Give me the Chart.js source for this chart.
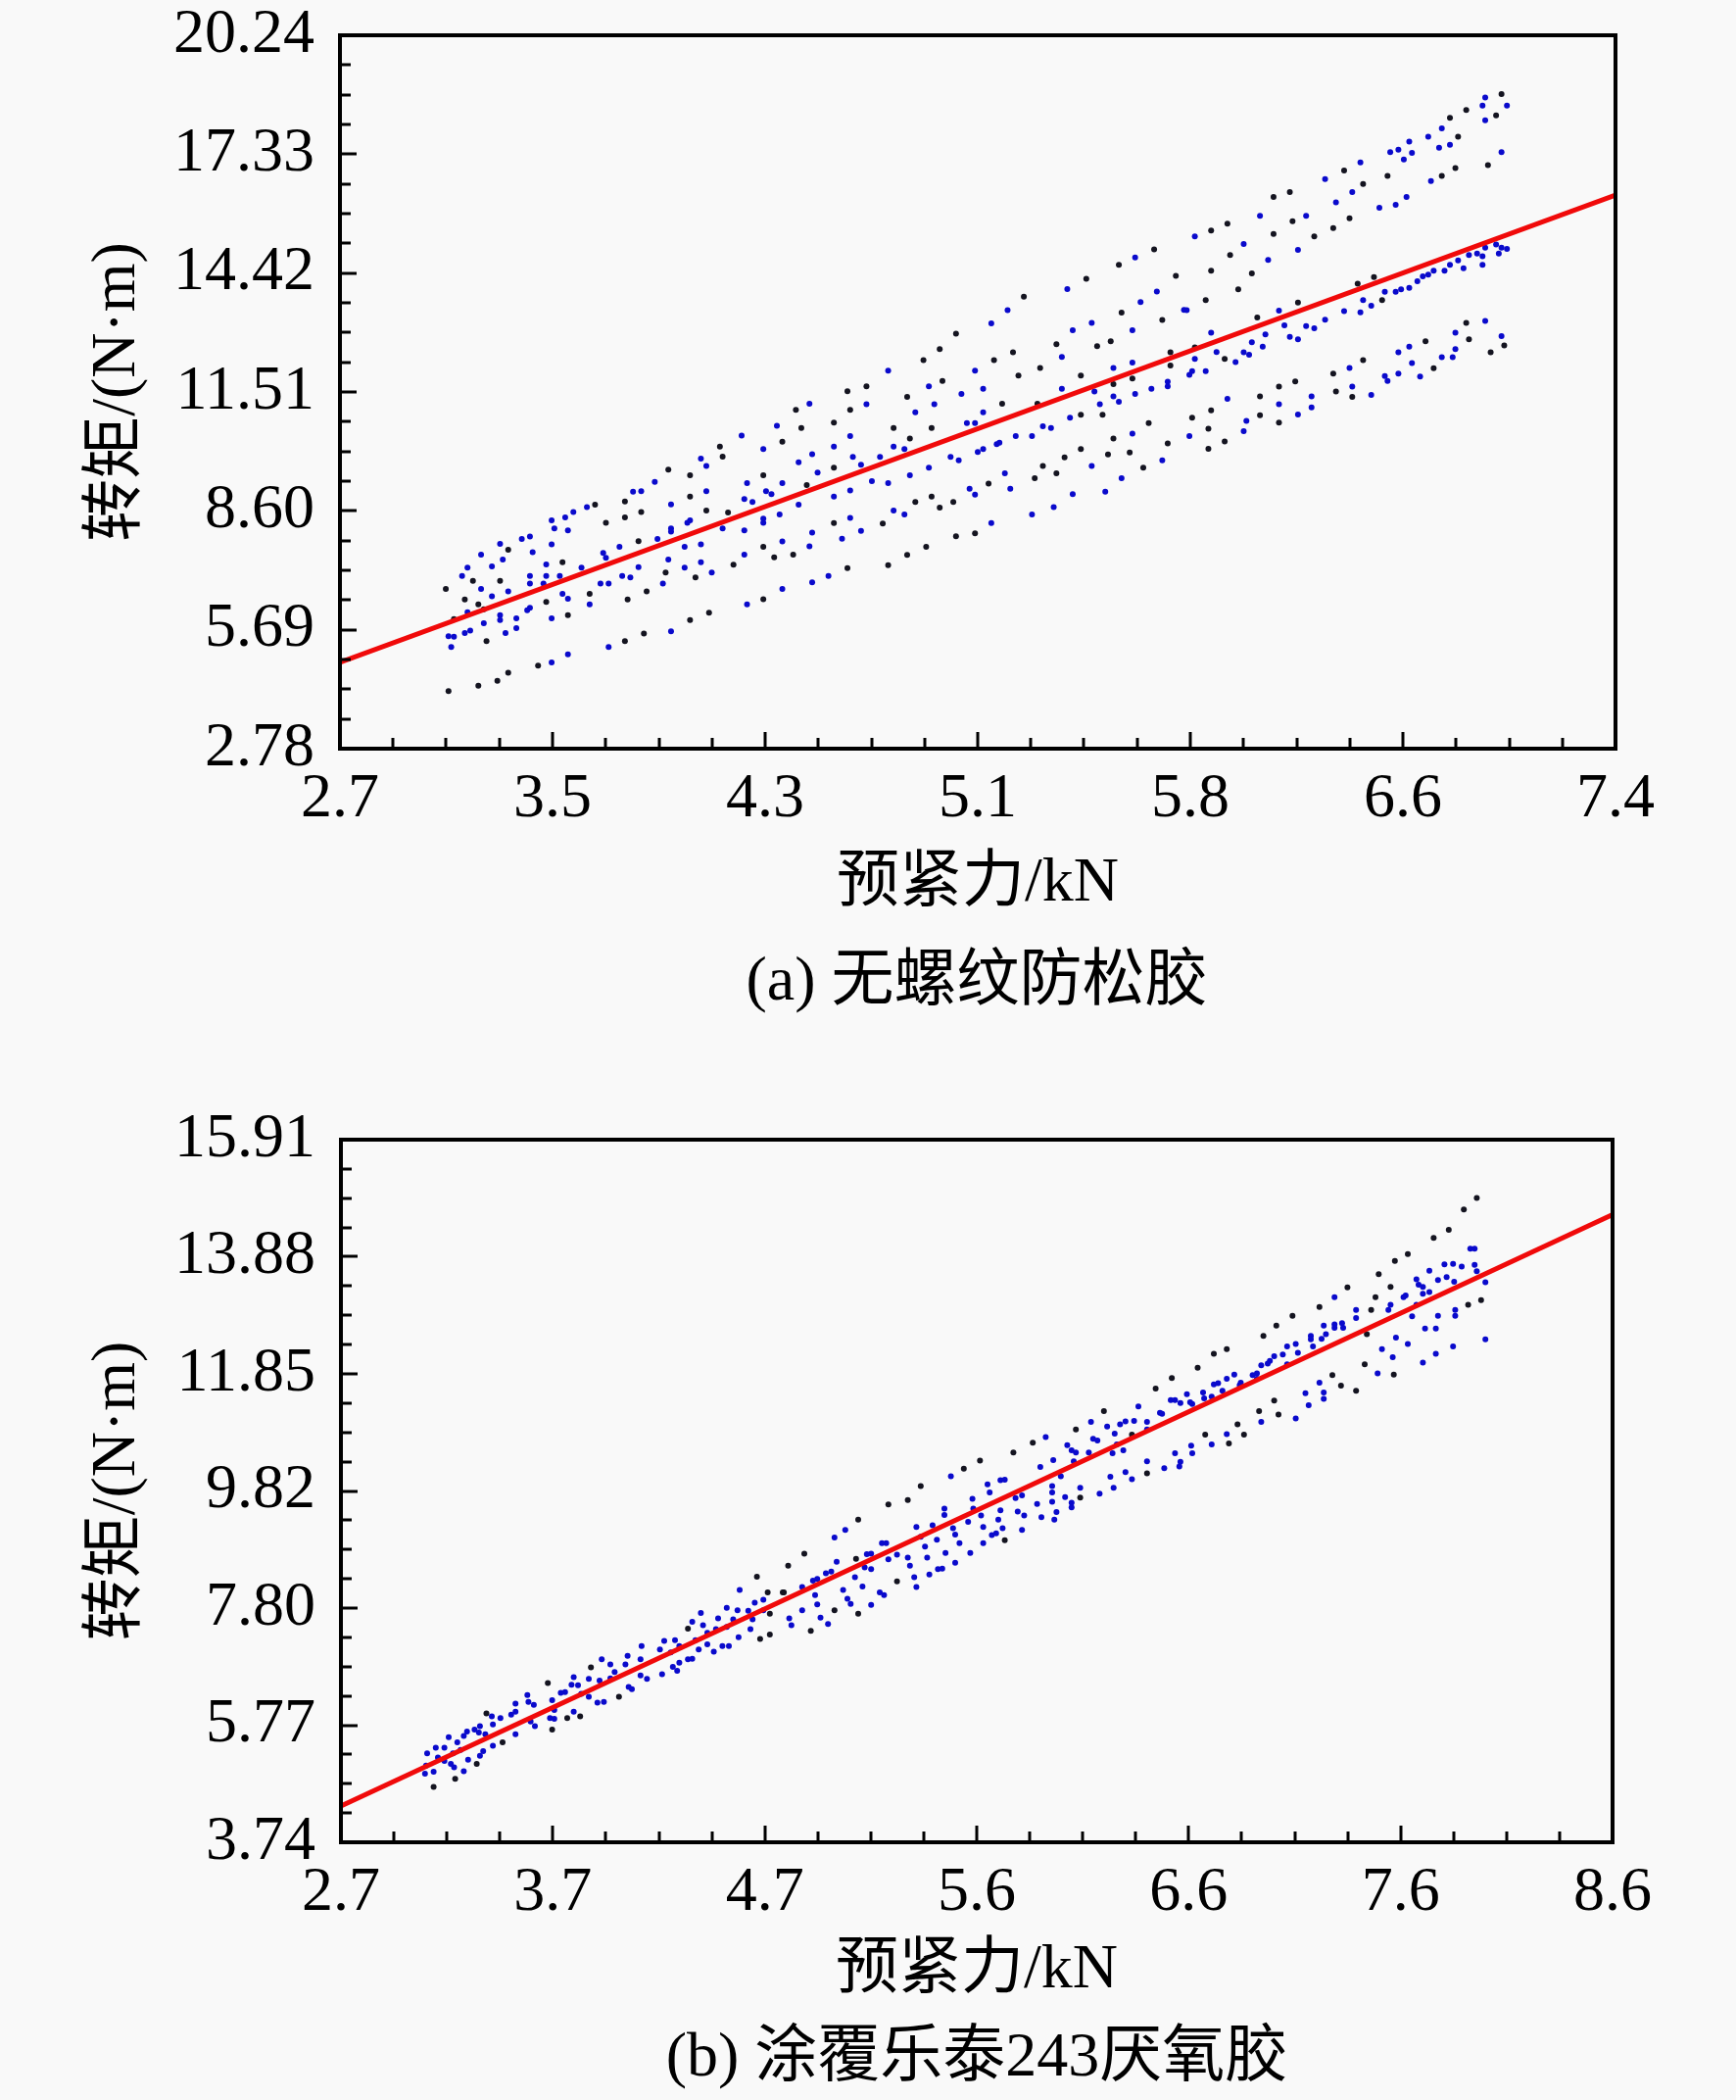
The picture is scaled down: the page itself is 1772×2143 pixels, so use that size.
<!DOCTYPE html>
<html>
<head>
<meta charset="utf-8">
<script src="https://cdn.jsdelivr.net/npm/chart.js@4.4.1/dist/chart.umd.min.js"></script>
<style>
  html, body { margin: 0; padding: 0; background: #f9f9f9; }
  body { width: 1772px; height: 2143px; position: relative; overflow: hidden; }
  canvas { position: absolute; left: 0; }
  .cap { position: absolute; left: 222px; width: 1550px; text-align: center;
         font: 64px 'Liberation Serif', 'Noto Sans CJK SC', serif; line-height: 76px; color: #000; }
</style>
</head>
<body>
<canvas id="chartA" width="1772" height="950" style="top:0px"></canvas>
<canvas id="chartB" width="1772" height="950" style="top:1127px"></canvas>
<div class="cap" style="top:961px">(a) 无螺纹防松胶</div>
<div class="cap" style="top:2059px">(b) 涂覆乐泰243厌氧胶</div>
<script>
// ---- (a) 无螺纹防松胶 : [预紧力 kN, 转矩 N·m]
const pointsA_blue = [
  [4.43,11.22],[4.31,10.68],[4.18,10.44],[4.26,10.11],[4.03,9.88],[4.05,9.70],[4.39,9.79],[4.44,9.99],[3.86,9.31],[4.20,9.28],
  [4.33,9.28],[3.78,9.07],[3.81,9.08],[4.05,9.08],[4.27,9.08],[4.29,9.01],[4.19,8.89],[4.22,8.82],[3.61,8.69],[3.56,8.57],
  [3.53,8.44],[3.92,8.76],[4.39,8.75],[4.32,8.51],[3.48,8.37],[3.49,8.17],[3.54,8.12],[4.26,8.41],[4.26,8.31],[3.99,8.37],
  [3.98,8.31],[3.92,8.17],[3.92,8.09],[4.11,8.17],[4.19,8.12],[4.44,8.07],[3.40,7.97],[3.37,7.91],[3.48,7.78],[3.87,7.91],
  [3.97,7.72],[4.03,7.78],[4.33,7.85],[4.43,7.73],[3.29,7.79],[3.22,7.53],[3.41,7.59],[3.30,7.41],[3.67,7.57],[3.68,7.45],
  [3.73,7.72],[3.91,7.41],[4.19,7.53],[3.26,7.24],[3.17,7.21],[3.46,7.29],[3.59,7.21],[3.80,7.22],[4.03,7.34],[3.97,7.21],
  [3.15,7.01],[3.40,7.01],[3.46,7.01],[3.51,7.01],[3.74,7.01],[3.77,6.97],[4.07,7.09],[3.22,6.69],[3.40,6.82],[3.45,6.82],
  [3.66,6.82],[3.69,6.82],[3.89,6.82],[4.44,6.85],[3.26,6.51],[3.32,6.63],[3.52,6.57],[3.54,6.45],[4.33,6.69],[3.17,6.12],
  [3.62,6.31],[4.20,6.31],[3.29,6.05],[3.29,5.93],[3.35,5.97],[3.40,6.23],[3.39,6.17],[3.48,5.97],[3.23,5.85],[3.35,5.73],
  [3.10,5.53],[3.12,5.52],[3.16,5.61],[3.18,5.67],[3.31,5.61],[3.92,5.65],[3.11,5.27],[3.69,5.27],[3.54,5.09],[3.48,4.89],
  [5.63,14.80],[5.38,14.03],[5.71,13.97],[5.65,13.71],[5.16,13.51],[5.81,13.52],[5.10,13.19],[5.47,13.20],[5.40,13.02],[5.62,13.02],
  [5.36,12.37],[5.62,12.23],[4.72,12.03],[5.04,12.03],[5.55,12.10],[4.87,11.65],[5.07,11.59],[5.36,11.59],[5.69,11.59],[5.75,11.76],
  [5.75,11.65],[4.99,11.46],[5.48,11.52],[5.63,11.46],[5.55,11.40],[5.57,11.27],[5.50,11.21],[4.89,11.21],[4.64,11.21],[4.82,11.01],
  [5.07,11.01],[5.39,10.88],[5.01,10.75],[5.04,10.75],[5.29,10.67],[5.32,10.63],[4.58,10.43],[5.19,10.43],[5.25,10.43],[5.62,10.49],
  [4.52,10.17],[4.74,10.17],[4.78,10.11],[5.05,10.04],[5.07,10.11],[5.12,10.23],[5.13,10.27],[4.59,9.92],[4.69,9.92],[4.95,9.92],
  [4.98,9.84],[5.73,9.84],[4.62,9.73],[4.87,9.66],[4.80,9.47],[5.15,9.52],[5.47,9.70],[4.66,9.33],[4.72,9.28],[5.58,9.40],
  [4.58,9.10],[5.02,9.14],[5.04,9.00],[5.17,9.14],[5.40,9.01],[5.52,9.07],[4.52,8.95],[5.33,8.69],[4.74,8.61],[4.78,8.51],
  [5.25,8.51],[4.58,8.43],[5.10,8.30],[4.62,8.11],[4.55,7.92],[4.50,7.01],[4.46,9.54],
  [6.92,18.72],[6.91,18.52],[7.00,18.52],[6.92,18.16],[6.76,17.96],[6.71,17.76],[6.64,17.64],[6.79,17.56],[6.75,17.49],[6.57,17.38],
  [6.60,17.44],[6.65,17.36],[6.98,17.38],[6.62,17.20],[6.46,17.13],[6.33,16.72],[6.72,16.67],[6.43,16.40],[6.63,16.28],[6.59,16.09],
  [6.53,16.02],[6.37,16.15],[6.09,15.82],[6.26,15.82],[5.85,15.32],[6.03,15.13],[6.23,14.99],[6.12,14.74],[5.82,13.51],
  [6.98,15.04],[6.96,15.12],[7.00,15.01],[6.97,14.90],[6.91,14.83],[6.92,15.04],[6.89,14.90],[6.86,14.86],[6.91,14.62],[6.84,14.54],
  [6.82,14.73],[6.79,14.62],[6.77,14.48],[6.73,14.48],[6.71,14.38],[6.69,14.34],[6.67,14.22],[6.64,14.06],[6.61,14.02],[6.59,13.96],
  [6.55,13.96],[6.50,13.62],[6.47,13.76],[6.46,13.46],[6.40,13.49],[6.33,13.28],[6.29,13.07],[6.26,13.12],[6.16,13.50],[6.11,12.92],
  [6.06,12.73],[6.10,12.62],[6.20,12.86],[6.23,12.80],[6.18,13.14],[6.03,12.48],[6.05,12.42],[6.00,12.24],[5.93,12.49],[5.85,12.32],
  [5.89,12.02],[5.83,11.93],[5.84,12.02],[5.91,12.96],
  [6.92,13.25],[6.81,12.96],[6.98,12.88],[6.81,12.56],[6.80,12.36],[6.76,12.36],[6.64,12.62],[6.60,12.48],[6.65,12.22],[6.60,11.96],
  [6.68,11.89],[6.55,11.90],[6.56,11.78],[6.42,12.10],[6.43,11.64],[6.50,11.44],[6.28,11.40],[6.28,11.13],[6.23,10.96],[6.16,11.21],
  [5.97,11.34],[6.04,10.80],[6.03,10.55],[5.83,10.43]
];
const pointsA_black = [
  [4.38,11.07],[4.40,10.63],[4.33,10.29],[4.10,10.17],[4.11,9.93],[3.91,9.61],[3.99,9.47],[4.26,9.47],[3.99,8.95],[3.75,8.83],
  [3.64,8.75],[4.42,9.23],[4.05,8.61],[4.13,8.56],[3.81,8.57],[3.75,8.44],[3.68,8.31],[3.80,7.86],[4.26,7.72],[3.32,7.65],
  [3.52,7.34],[4.30,7.46],[4.37,7.53],[4.15,7.28],[3.19,6.89],[3.29,6.89],[3.90,7.09],[4.01,6.97],[3.09,6.69],[3.16,6.43],
  [3.62,6.57],[3.83,6.63],[3.21,6.31],[3.23,6.19],[3.46,6.37],[3.76,6.43],[4.26,6.44],[3.54,6.05],[4.06,6.11],[3.12,5.95],
  [3.99,5.93],[3.24,5.41],[3.82,5.60],[3.75,5.41],[3.43,4.81],[3.32,4.64],[3.28,4.44],[3.21,4.32],[3.10,4.19],
  [5.70,15.00],[5.57,14.62],[5.78,14.35],[5.45,14.28],[5.22,13.84],[5.58,13.45],[5.73,13.27],[4.97,12.94],[5.34,12.68],[5.49,12.63],
  [5.54,12.75],[4.91,12.56],[5.18,12.48],[4.85,12.29],[5.11,12.29],[5.76,12.48],[5.76,12.16],[5.28,12.10],[5.20,11.91],[5.43,11.91],
  [4.92,11.78],[5.62,11.84],[5.55,11.70],[4.57,11.53],[4.64,11.65],[4.79,11.39],[4.58,11.07],[5.14,11.22],[5.27,11.22],[5.43,10.95],
  [5.51,10.95],[4.52,10.76],[5.68,10.75],[4.74,10.63],[4.88,10.63],[4.80,10.37],[5.55,10.37],[5.43,10.11],[5.75,10.25],[5.37,9.91],
  [5.53,9.98],[5.61,10.03],[4.52,9.66],[5.29,9.70],[5.34,9.52],[5.66,9.66],[5.09,9.27],[5.26,9.40],[4.82,8.82],[4.88,8.95],
  [4.96,8.82],[4.91,8.68],[4.52,8.30],[4.70,8.29],[4.97,7.98],[5.04,8.05],[4.86,7.72],[4.79,7.52],[4.72,7.27],[4.57,7.20],
  [6.98,18.80],[6.85,18.41],[6.96,18.28],[6.79,18.22],[6.82,17.76],[6.40,16.93],[6.93,17.06],[6.81,16.99],[6.56,16.80],[6.76,16.80],
  [6.47,16.60],[6.20,16.40],[6.14,16.28],[6.21,15.69],[6.42,15.76],[5.97,15.63],[5.91,15.46],[6.14,15.38],[6.36,15.52],[6.29,15.32],
  [5.98,14.86],[6.06,14.41],[5.91,14.48],[6.01,14.02],[5.89,13.76],[6.54,13.76],[6.45,14.16],[6.51,14.32],[6.23,13.70],[6.08,13.33],
  [5.96,12.32],[5.85,12.60],[6.85,13.20],[6.86,12.80],[6.99,12.65],[6.94,12.48],[6.73,12.09],[6.70,12.75],[6.47,12.29],[6.36,11.96],
  [6.37,11.52],[6.43,11.39],[6.22,11.77],[6.16,11.64],[6.09,11.40],[5.91,11.06],[5.84,10.88],[6.09,10.94],[6.16,10.76],[5.90,10.61],
  [5.96,10.30],[5.90,10.12]
];
const fitA_x = [2.7, 7.4];
const fitA_y = [4.89, 16.33];
const xTicksA = [2.7, 3.483, 4.267, 5.05, 5.833, 6.617, 7.4];
const xLabelsA = ['2.7', '3.5', '4.3', '5.1', '5.8', '6.6', '7.4'];
const yTicksA = [2.78, 5.69, 8.60, 11.51, 14.42, 17.33, 20.24];
const yLabelsA = ['2.78', '5.69', '8.60', '11.51', '14.42', '17.33', '20.24'];

// ---- (b) 涂覆乐泰243厌氧胶
const pointsB_blue = [
  [4.55,8.11],[4.66,7.94],[4.62,7.89],[4.49,7.80],[4.54,7.76],[4.59,7.75],[4.66,7.76],[4.37,7.71],[4.45,7.62],[4.52,7.60],
  [4.61,7.60],[4.33,7.56],[4.38,7.50],[4.40,7.37],[4.44,7.43],[4.49,7.47],[4.60,7.43],[4.545,7.29],[4.20,7.23],[4.25,7.24],
  [4.27,7.14],[4.345,7.24],[4.36,7.08],[4.40,7.17],[4.47,7.14],[4.50,7.14],[4.43,7.04],[4.095,7.14],[4.03,6.97],[3.95,6.82],
  [3.91,6.91],[3.97,6.69],[3.85,6.57],[3.90,6.54],[3.95,6.58],[4.02,6.82],[4.09,6.91],[4.18,7.08],[4.23,7.03],[4.27,6.85],
  [4.24,6.78],[4.31,6.91],[4.33,6.92],[4.09,6.63],[4.12,6.57],[4.19,6.65],[4.26,6.71],[3.78,6.60],[3.80,6.46],[3.77,6.47],
  [3.74,6.34],[3.72,6.33],[3.815,6.31],[3.85,6.26],[3.89,6.16],[3.92,6.17],[4.035,6.43],[4.05,6.39],[3.68,6.20],[3.69,6.03],
  [3.78,6.00],[3.67,5.89],[3.69,5.88],[3.565,6.29],[3.57,6.17],[3.51,6.14],[3.595,6.12],[3.51,6.00],[3.49,5.95],[3.44,5.89],
  [3.40,5.92],[3.58,5.83],[3.60,5.75],[3.345,5.75],[3.34,5.64],[3.32,5.69],[3.285,5.66],[3.27,5.58],[3.405,5.78],[3.51,5.61],
  [3.37,5.61],[3.405,5.41],[3.20,5.56],[3.24,5.47],[3.18,5.38],[3.14,5.38],[3.10,5.28],[3.22,5.28],[3.255,5.34],[3.36,5.32],
  [3.345,5.24],[3.15,5.21],[3.18,5.15],[3.225,5.04],[3.29,5.17],[3.27,4.97],[3.21,5.10],[3.095,5.07],[3.13,4.96],[3.09,4.93],
  [4.78,7.62],[4.79,7.50],[4.84,7.76],[4.91,7.86],[4.925,7.63],[4.96,7.52],[4.89,8.27],[4.91,8.30],[4.95,8.40],[4.975,8.43],
  [4.84,8.16],[4.90,8.02],[4.99,9.02],[5.04,9.15],[5.00,8.60],[5.03,8.11],[5.05,7.96],[5.065,7.87],[5.085,8.33],[5.12,8.17],
  [5.16,7.85],[5.14,8.73],[5.16,8.74],[5.13,8.50],[5.16,8.47],[5.20,8.07],[5.22,8.02],[5.21,8.92],[5.23,8.92],[5.24,8.64],
  [5.28,8.72],[5.33,8.67],[5.34,8.53],[5.36,8.33],[5.37,8.16],[5.37,9.20],[5.39,9.03],[5.41,8.86],[5.42,8.67],[5.43,8.38],
  [5.445,9.23],[5.465,8.98],[5.47,8.47],[5.49,8.48],[5.50,9.52],[5.50,9.41],[5.505,8.75],[5.54,9.18],[5.55,9.07],[5.55,8.58],
  [5.57,8.92],[5.53,10.08],[5.61,9.29],[5.63,9.69],[5.634,9.52],[5.62,8.75],[5.68,9.20],[5.68,8.92],[5.67,9.40],[5.70,9.94],
  [5.71,9.80],[5.72,9.06],[5.74,9.09],[5.75,9.33],[5.76,9.49],[5.76,10.01],[5.77,9.18],[5.78,10.02],[5.83,9.70],[5.84,9.47],
  [5.87,9.40],[5.86,9.15],[5.86,9.75],[5.93,9.60],[5.945,10.24],[5.95,9.37],[5.97,10.76],[6.00,9.91],[6.00,9.80],[6.00,9.64],
  [6.01,9.33],[6.005,10.36],[6.02,9.46],[6.04,10.08],[6.06,9.72],[6.07,10.62],[6.09,10.53],[6.09,9.62],[6.09,9.54],[6.10,10.34],
  [6.11,10.49],[6.13,9.88],[6.17,10.49],[6.18,11.02],[6.19,10.73],[6.21,10.70],[6.22,9.78],[6.255,10.94],[6.27,10.07],[6.28,10.48],
  [6.285,9.88],[6.29,10.82],[6.30,10.63],[6.33,10.53],[6.34,10.15],[6.315,10.98],[6.34,11.03],
  [7.94,14.02],[7.96,14.02],[7.82,13.75],[7.86,13.76],[7.90,13.71],[7.96,13.74],[7.97,13.63],[7.75,13.64],[7.69,13.49],[7.79,13.48],
  [7.83,13.53],[7.865,13.45],[8.01,13.44],[7.70,13.40],[7.72,13.36],[7.72,13.24],[7.75,13.27],[7.64,13.21],[7.63,13.18],[7.31,13.18],
  [7.57,13.05],[7.56,12.96],[7.69,13.05],[7.67,12.85],[7.87,12.96],[7.87,12.86],[7.79,12.86],[7.41,12.96],[7.41,12.82],[7.26,12.69],
  [7.31,12.71],[7.345,12.73],[7.31,12.65],[7.35,12.65],[7.73,12.64],[7.78,12.64],[8.01,12.45],[7.86,12.33],[7.595,12.48],[7.65,12.37],
  [7.53,12.28],[7.58,12.14],[7.78,12.20],[7.72,12.05],[7.27,12.54],[7.25,12.46],[7.20,12.51],[7.20,12.45],[7.21,12.33],[7.13,12.37],
  [7.09,12.33],[7.14,12.22],[7.07,12.19],[7.03,12.16],[7.01,12.08],[6.97,12.00],[7.00,12.03],[7.09,12.02],[7.51,11.86],[7.24,11.70],
  [7.175,11.52],[7.26,11.53],[7.26,11.42],[7.19,11.31],[7.13,11.08],[6.97,11.02],[6.81,10.81],[6.74,10.63],[6.645,10.61],[6.65,10.48],
  [6.57,10.48],[6.595,10.33],[6.59,10.25],[6.52,10.22],[6.44,10.34],[6.37,10.03],[6.95,11.86],[6.93,11.83],[6.95,11.77],[6.845,11.84],
  [6.81,11.77],[6.77,11.69],[6.75,11.67],[6.79,11.56],[6.875,11.70],[6.87,11.66],[6.70,11.53],[6.705,11.43],[6.74,11.46],[6.625,11.50],
  [6.64,11.36],[6.65,11.33],[6.595,11.35],[6.55,11.40],[6.57,11.40],[6.40,11.29],[6.50,11.18],[6.51,11.16],[6.38,11.04],[6.44,11.02],
  [6.44,10.89]
];
const pointsB_black = [
  [4.63,8.34],[4.68,8.07],[4.75,8.07],[4.69,7.70],[4.31,7.44],[4.645,7.26],[4.69,7.34],[3.86,6.77],[3.66,6.50],[3.99,6.26],
  [3.81,5.92],[3.75,5.89],[3.68,5.69],[3.375,5.97],[3.45,5.47],[3.33,5.10],[3.23,4.84],[3.13,4.70],
  [4.775,8.53],[4.755,8.07],[4.88,7.40],[4.85,8.74],[4.99,7.76],[5.10,9.33],[5.09,8.65],[5.10,7.70],[5.24,9.59],[5.28,8.26],
  [5.33,9.67],[5.39,9.91],[5.59,10.21],[5.665,10.35],[5.78,8.97],[5.82,10.49],[5.91,10.66],[6.11,10.89],[6.13,9.71],[6.24,11.21],
  [7.97,14.90],[7.91,14.70],[7.84,14.35],[7.77,14.21],[7.65,13.93],[7.59,13.81],[7.515,13.58],[7.57,13.36],[7.37,13.35],[7.50,13.18],
  [7.93,13.05],[7.99,13.13],[7.48,12.96],[7.24,13.01],[7.115,12.86],[7.04,12.69],[7.46,12.54],[7.45,12.02],[6.98,12.51],[6.81,12.28],
  [6.75,12.20],[6.675,11.96],[7.585,11.84],[7.30,11.83],[7.34,11.65],[7.41,11.56],[7.03,11.39],[6.96,11.21],[7.05,11.15],[6.86,10.98],
  [6.89,10.80],[6.82,10.65],[6.71,10.80],[6.44,10.13],[6.48,11.60],[6.555,11.78],[6.37,10.80]
];
const fitB_x = [2.7, 8.6];
const fitB_y = [4.37, 14.61];
const xTicksB = [2.7, 3.683, 4.667, 5.65, 6.633, 7.617, 8.6];
const xLabelsB = ['2.7', '3.7', '4.7', '5.6', '6.6', '7.6', '8.6'];
const yTicksB = [3.74, 5.768, 7.797, 9.825, 11.853, 13.882, 15.91];
const yLabelsB = ['3.74', '5.77', '7.80', '9.82', '11.85', '13.88', '15.91'];

const FONT = "'Liberation Serif', 'Noto Sans CJK SC', serif";
const toXY = pts => pts.map(p => ({x: p[0], y: p[1]}));

// frame + inward ticks (major and 3 minor between)
const frameTicks = {
  id: 'frameTicks',
  afterDatasetsDraw(chart, args, opts) {
    const {ctx, chartArea: a, scales: {x, y}} = chart;
    ctx.save();
    ctx.strokeStyle = '#000';
    ctx.lineWidth = 4;
    ctx.strokeRect(a.left, a.top, a.right - a.left, a.bottom - a.top);
    ctx.lineWidth = 3;
    ctx.beginPath();
    const walk = (t, fn) => {
      for (let i = 0; i < t.length - 1; i++) {
        for (let k = 0; k < 4; k++) fn(t[i] + k * (t[i + 1] - t[i]) / 4, k === 0 ? 17 : 11);
      }
    };
    walk(opts.xt, (v, len) => {
      const px = Math.round(x.getPixelForValue(v));
      ctx.moveTo(px, a.bottom); ctx.lineTo(px, a.bottom - len);
    });
    walk(opts.yt, (v, len) => {
      const py = Math.round(y.getPixelForValue(v));
      ctx.moveTo(a.left, py); ctx.lineTo(a.left + len, py);
    });
    ctx.stroke();
    ctx.restore();
  }
};

function makeChart(id, blue, black, fx, fy, xt, xl, yt, yl, cfg) {
  new Chart(document.getElementById(id), {
    type: 'scatter',
    data: {
      datasets: [
        {type: 'line', data: fx.map((v, i) => ({x: v, y: fy[i]})), borderColor: '#f00a0a',
         borderWidth: 5, pointRadius: 0, fill: false, order: 0},
        {data: toXY(black), backgroundColor: '#141420', pointRadius: 3, borderWidth: 0, order: 1},
        {data: toXY(blue), backgroundColor: '#0a0acc', pointRadius: 3, borderWidth: 0, order: 2}
      ]
    },
    options: {
      responsive: false,
      animation: false,
      devicePixelRatio: 1,
      layout: {padding: {top: 36, right: cfg.right, left: 0, bottom: 0}},
      plugins: {legend: {display: false}, tooltip: {enabled: false}, frameTicks: {xt: xt, yt: yt}},
      scales: {
        x: {
          type: 'linear', min: xt[0], max: xt[xt.length - 1],
          grid: {display: false, drawTicks: false},
          border: {display: false},
          afterBuildTicks: s => { s.ticks = xt.map(v => ({value: v})); },
          afterFit: s => { s.height = cfg.xh; s.paddingLeft = 0; s.paddingRight = 0; },
          ticks: {padding: 14, color: '#000', font: {family: FONT, size: 64}, maxRotation: 0,
                  autoSkip: false, callback: (v, i) => xl[i]},
          title: {display: true, text: '预紧力/kN', color: '#000', padding: cfg.xtp,
                  font: {family: FONT, size: 64, lineHeight: 1.2}}
        },
        y: {
          type: 'linear', min: yt[0], max: yt[yt.length - 1],
          grid: {display: false, drawTicks: false},
          border: {display: false},
          afterBuildTicks: s => { s.ticks = yt.map(v => ({value: v})); },
          afterFit: s => { s.width = cfg.yw; s.paddingTop = 0; s.paddingBottom = 0; },
          ticks: {padding: 26, color: '#000', font: {family: FONT, size: 64},
                  autoSkip: false, callback: (v, i) => yl[i]},
          title: {display: true, text: '转矩/(N·m)', color: '#000', padding: 82,
                  font: {family: FONT, size: 64, lineHeight: 1.2}}
        }
      }
    },
    plugins: [frameTicks]
  });
}

makeChart('chartA', pointsA_blue, pointsA_black, fitA_x, fitA_y, xTicksA, xLabelsA, yTicksA, yLabelsA,
          {right: 123, xh: 186, yw: 347, xtp: 9});
makeChart('chartB', pointsB_blue, pointsB_black, fitB_x, fitB_y, xTicksB, xLabelsB, yTicksB, yLabelsB,
          {right: 126, xh: 197, yw: 348, xtp: 27});
</script>
</body>
</html>
